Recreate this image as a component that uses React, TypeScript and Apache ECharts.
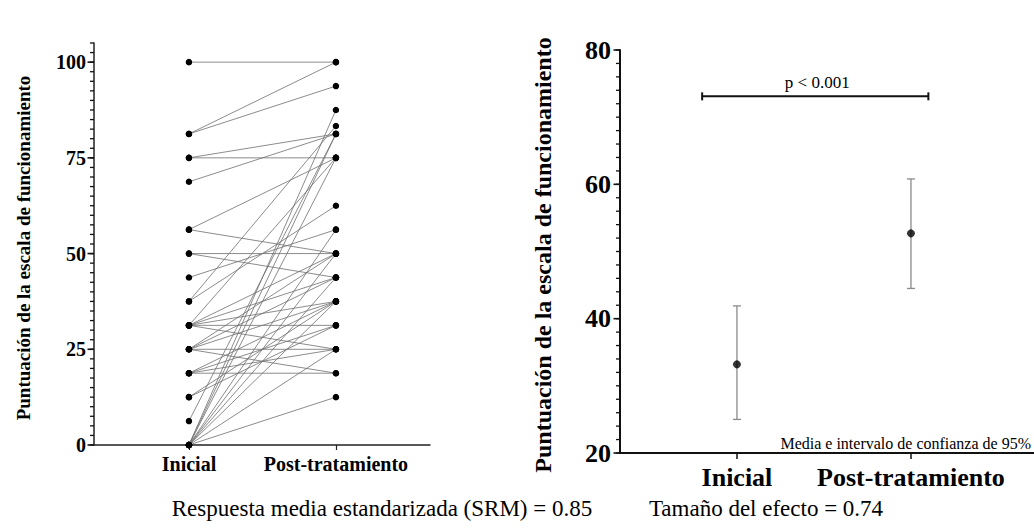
import React, { useEffect, useRef } from "react";
import * as echarts from "echarts";

// ---- data ----
const categories = ["Inicial", "Post-tratamiento"];
// paired individual scores (index i = same subject)
const inicial = [100, 81.25, 81.25, 75, 75, 68.75, 56.25, 56.25, 50, 50, 43.75, 37.5, 37.5, 31.25, 31.25, 31.25, 31.25, 31.25, 25, 25, 25, 25, 18.75, 18.75, 18.75, 18.75, 12.5, 12.5, 6.25, 0, 0, 0, 0, 0, 0, 0, 0, 25, 31.25, 0];
const post = [100, 100, 93.75, 81.25, 75, 81.25, 75, 50, 50, 43.75, 56.25, 62.5, 83.33, 31.25, 25, 50, 43.75, 75, 37.5, 18.75, 43.75, 50, 18.75, 37.5, 31.25, 25, 37.5, 31.25, 81.25, 12.5, 87.5, 81.25, 75, 50, 43.75, 37.5, 25, 25, 37.5, 56.25];
// mean and 95% CI
const means = [33.2, 52.7];
const ciLow = [25.0, 44.5];
const ciHigh = [41.9, 60.8];
const leftYLabels = [0, 25, 50, 75, 100];
const rightYLabels = [20, 40, 60, 80];
const leftMinorStep = 2.5;
const rightMinorStep = 2;
const bracket = [0.8, 2.1, 73.1]; // x from, x to, y
const pText = "p < 0.001";
const yTitle = "Puntuación de la escala de funcionamiento";
const note = "Media e intervalo de confianza de 95%";
const srmText = "Respuesta media estandarizada (SRM) = 0.85";
const effText = "Tamaño del efecto = 0.74";

const SERIF = "'Liberation Serif', 'Times New Roman', serif";

const LX = [0.354, 2.64];
const LY = [0, 105];
const RX = [0.328, 2.707];
const RY = [20, 80];

function ticksBetween(lo: number, hi: number, step: number) {
  const out: number[] = [];
  const n = Math.round((hi - lo) / step);
  for (let i = 0; i <= n; i++) out.push(lo + i * step);
  return out;
}

export default function App() {
  const ref = useRef<HTMLDivElement>(null);
  useEffect(() => {
    if (!ref.current) return;
    const chart = echarts.init(ref.current, undefined, { renderer: "svg" });
    const catFmt = (v: any) => categories[Math.round(Number(v)) - 1] ?? "";

    const pairSeries = inicial.map((a, i) => ({
      type: "line",
      xAxisIndex: 0,
      yAxisIndex: 0,
      data: [[1, a], [2, post[i]]],
      symbol: "none",
      silent: true,
      lineStyle: { color: "#6e6e6e", width: 0.8 },
      z: 2,
    }));

    // one custom item draws every tick of an axis (minor + major)
    const tickSeries = (xi: number, yi: number, xmin: number, minor: number[], major: number[]) => ({
      type: "custom", xAxisIndex: xi, yAxisIndex: yi, z: 10,
      data: [[xmin, 0]],
      renderItem: (params: any, api: any) => {
        const x0 = api.value(0);
        const children: any[] = [];
        minor.forEach((v) => {
          const p = api.coord([x0, v]);
          children.push({ type: "line", shape: { x1: p[0] - 4, y1: p[1], x2: p[0], y2: p[1] }, style: { stroke: "#111", lineWidth: 1.3 } });
        });
        major.forEach((v) => {
          const p = api.coord([x0, v]);
          children.push({ type: "line", shape: { x1: p[0] - 6.5, y1: p[1], x2: p[0], y2: p[1] }, style: { stroke: "#111", lineWidth: 1.6 } });
        });
        return { type: "group", children };
      },
    });

    const hidden = { show: false };
    const option: any = {
      animation: false,
      backgroundColor: "#fff",
      grid: [
        { left: 94, top: 43, width: 336, height: 402 },
        { left: 620, top: 50, width: 414, height: 403 },
      ],
      xAxis: [
        {
          type: "value", gridIndex: 0, min: LX[0], max: LX[1],
          axisLine: { lineStyle: { color: "#222", width: 1.5 } },
          axisTick: { customValues: [1, 2], length: 5, lineStyle: { color: "#222", width: 1.2 } },
          axisLabel: { customValues: [1, 2], formatter: catFmt, margin: 9, color: "#000", fontFamily: SERIF, fontWeight: "bold", fontSize: 20 },
          splitLine: hidden,
        },
        {
          type: "value", gridIndex: 1, min: RX[0], max: RX[1],
          axisLine: { lineStyle: { color: "#111", width: 2 } },
          axisTick: { customValues: [1, 2], length: 6, lineStyle: { color: "#111", width: 1.5 } },
          axisLabel: { customValues: [1, 2], formatter: catFmt, margin: 11, color: "#000", fontFamily: SERIF, fontWeight: "bold", fontSize: 26 },
          splitLine: hidden,
        },
      ],
      yAxis: [
        {
          type: "value", gridIndex: 0, min: LY[0], max: LY[1],
          axisLine: { show: true, lineStyle: { color: "#222", width: 1.5 } },
          axisTick: { show: false },
          axisLabel: { customValues: leftYLabels, margin: 8, color: "#000", fontFamily: SERIF, fontWeight: "bold", fontSize: 20 },
          splitLine: hidden,
        },
        {
          type: "value", gridIndex: 1, min: RY[0], max: RY[1],
          axisLine: { show: true, lineStyle: { color: "#111", width: 2 } },
          axisTick: { show: false },
          axisLabel: { customValues: rightYLabels, margin: 9, color: "#000", fontFamily: SERIF, fontWeight: "bold", fontSize: 26 },
          splitLine: hidden,
        },
      ],
      series: [
        tickSeries(0, 0, LX[0], ticksBetween(LY[0], LY[1], leftMinorStep), leftYLabels),
        tickSeries(1, 1, RX[0], ticksBetween(RY[0], RY[1], rightMinorStep), rightYLabels),
        ...pairSeries,
        {
          type: "scatter", xAxisIndex: 0, yAxisIndex: 0, symbolSize: 6.5, z: 5,
          itemStyle: { color: "#000", opacity: 1 },
          data: [...inicial.map((v) => [1, v]), ...post.map((v) => [2, v])],
        },
        {
          type: "custom", xAxisIndex: 1, yAxisIndex: 1, z: 3,
          data: means.map((m, i) => [i + 1, ciLow[i], ciHigh[i]]),
          renderItem: (params: any, api: any) => {
            const x = api.value(0);
            const lo = api.coord([x, api.value(1)]);
            const hi = api.coord([x, api.value(2)]);
            const st = { stroke: "#8a8a8a", lineWidth: 1.3 };
            return {
              type: "group",
              children: [
                { type: "line", shape: { x1: lo[0], y1: lo[1], x2: hi[0], y2: hi[1] }, style: st },
                { type: "line", shape: { x1: lo[0] - 4, y1: lo[1], x2: lo[0] + 4, y2: lo[1] }, style: st },
                { type: "line", shape: { x1: hi[0] - 4, y1: hi[1], x2: hi[0] + 4, y2: hi[1] }, style: st },
              ],
            };
          },
        },
        {
          type: "scatter", xAxisIndex: 1, yAxisIndex: 1, symbolSize: 8, z: 5,
          itemStyle: { color: "#000" },
          data: means.map((m, i) => [i + 1, m]),
        },
        {
          type: "custom", xAxisIndex: 1, yAxisIndex: 1, z: 4,
          data: [bracket],
          renderItem: (params: any, api: any) => {
            const a = api.coord([api.value(0), api.value(2)]);
            const b = api.coord([api.value(1), api.value(2)]);
            const st = { stroke: "#111", lineWidth: 2 };
            return {
              type: "group",
              children: [
                { type: "line", shape: { x1: a[0], y1: a[1], x2: b[0], y2: b[1] }, style: st },
                { type: "line", shape: { x1: a[0], y1: a[1] - 4, x2: a[0], y2: a[1] + 4 }, style: st },
                { type: "line", shape: { x1: b[0], y1: b[1] - 4, x2: b[0], y2: b[1] + 4 }, style: st },
                {
                  type: "text",
                  style: { text: pText, x: (a[0] + b[0]) / 2 + 2, y: a[1] - 14, align: "center", verticalAlign: "middle", font: `17px ${SERIF}`, fill: "#000" },
                },
              ],
            };
          },
        },
      ],
      graphic: [
        { type: "text", x: 23, y: 248, rotation: Math.PI / 2, style: { text: yTitle, textAlign: "center", textVerticalAlign: "middle", font: `bold 19px ${SERIF}`, fill: "#000" } },
        { type: "text", x: 543, y: 255, rotation: Math.PI / 2, style: { text: yTitle, textAlign: "center", textVerticalAlign: "middle", font: `bold 24px ${SERIF}`, fill: "#000" } },
        { type: "text", x: 1031, y: 443, style: { text: note, textAlign: "right", textVerticalAlign: "middle", font: `16px ${SERIF}`, fill: "#000" } },
        { type: "text", x: 382, y: 508, style: { text: srmText, textAlign: "center", textVerticalAlign: "middle", font: `23px ${SERIF}`, fill: "#000" } },
        { type: "text", x: 766, y: 508, style: { text: effText, textAlign: "center", textVerticalAlign: "middle", font: `23px ${SERIF}`, fill: "#000" } },
      ],
    };
    chart.setOption(option);
    return () => chart.dispose();
  }, []);
  return <div ref={ref} style={{ position: "absolute", left: 0, top: 0, width: 1034, height: 529 }} />;
}
